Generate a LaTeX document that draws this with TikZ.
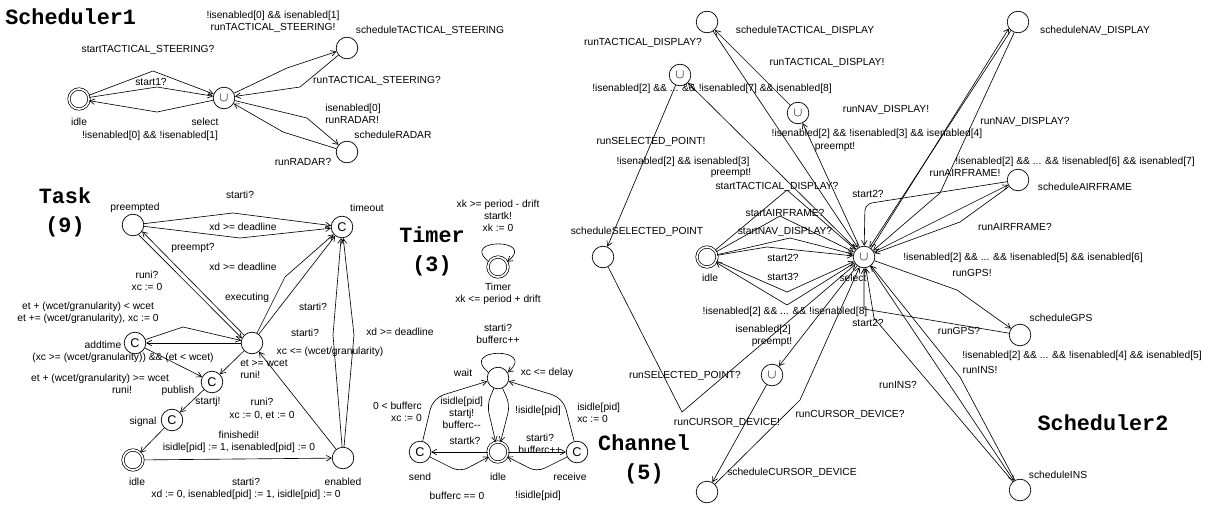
\documentclass[tikz,border=0pt]{standalone}
\usepackage{fontspec}
\setmainfont{Liberation Sans}
\setmonofont{Liberation Mono}
\usetikzlibrary{arrows.meta}

\begin{document}
\begin{tikzpicture}[x=0.025cm, y=-0.025cm,
		every node/.style={font=\fontsize{7.3}{8.7}\selectfont, inner sep=0pt, align=center},
		loc/.style={circle, draw, line width=0.5pt, minimum size=0.54cm},
		init/.style={loc, minimum size=0.5cm, double, double distance=1.2pt},
		comm/.style={loc, font=\fontsize{9}{9}\selectfont},
		urg/.style={loc, font=\fontsize{9}{9}\selectfont},
		ttl/.style={font=\fontsize{15.5}{20.5}\selectfont\ttfamily\bfseries},
		edge/.style={-{Straight Barb[length=3.5pt,width=4pt]}, line width=0.45pt},
	]
	\useasboundingbox (0,0) rectangle (1221,506);

	% Scheduler1
	\node[ttl, anchor=west] (s1title) at (5,17) {Scheduler1};
	\node[init] (s1idle) at (79,99) {};
	\node[urg] (s1sel) at (224,98) {$\cup$};
	\node[loc] (s1steer) at (347,48) {};
	\node[loc] (s1radar) at (347,152) {};
	\draw[edge] (s1idle) -- (153,71) -- (s1sel);
	\draw[edge] (s1idle) -- (157,87) -- (s1sel);
	\draw[edge] (s1sel) -- (157,112) -- (s1idle);
	\draw[edge] (s1sel) -- (287,68) -- (s1steer);
	\draw[edge] (s1steer) -- (300,87) -- (s1sel);
	\draw[edge] (s1sel) -- (307,118) -- (s1radar);
	\draw[edge] (s1radar) -- (283,132) -- (s1sel);
	\node (s1a) at (273,22) {!isenabled[0] \&\& isenabled[1]\\runTACTICAL\_STEERING!};
	\node (s1b) at (430,31) {scheduleTACTICAL\_STEERING};
	\node (s1c) at (148,50) {startTACTICAL\_STEERING?};
	\node (s1d) at (151,82) {start1?};
	\node (s1e) at (377,81) {runTACTICAL\_STEERING?};
	\node[anchor=west, align=left] (s1f) at (325,114) {isenabled[0]\\runRADAR!};
	\node (s1g) at (393,135) {scheduleRADAR};
	\node (s1h) at (303,162) {runRADAR?};
	\node (s1i) at (79,122) {idle};
	\node (s1j) at (205,122) {select};
	\node (s1k) at (150,136) {!isenabled[0] \&\& !isenabled[1]};

	% Task
	\node[ttl] (tktitle) at (65,212) {Task\\(9)};
	\node[loc] (tpre) at (133,225) {};
	\node[comm] (tout) at (342,227) {C};
	\node[loc] (texec) at (252,343) {};
	\node[comm] (tadd) at (135,343) {C};
	\node[comm] (tpub) at (212,382) {C};
	\node[comm] (tsig) at (172,420) {C};
	\node[init] (tidle) at (133,460) {};
	\node[loc] (tena) at (343,458) {};
	\draw[edge] (tpre) -- (233,213) -- (tout);
	\draw[edge] (tpre) -- (240,238) -- (tout);
	\draw[edge] (texec.135) -- (tpre.-35);
	\draw[edge] (tpre.-60) -- (texec.155);
	\draw[edge] (texec) -- (285,277) -- (tout);
	\draw[edge] (texec) -- (tout);
	\draw[edge] (tadd) -- (183,327) -- (texec);
	\draw[edge] (texec) -- (tadd);
	\draw[edge] (tadd) -- (tpub);
	\draw[edge] (texec) -- (tpub);
	\draw[edge] (tpub) -- (tsig);
	\draw[edge] (tsig) -- (tidle);
	\draw[edge] (tidle) -- (tena);
	\draw[edge] (tena) -- (texec);
	\draw[edge] (tena) -- (333,335) -- (tout);
	\draw[edge] (tena) -- (354,335) -- (tout);
	\node (tka) at (135,208) {preempted};
	\node (tkb) at (367,208) {timeout};
	\node (tkc) at (240,195) {starti?};
	\node (tkd) at (243,227) {xd >= deadline};
	\node (tke) at (193,248) {preempt?};
	\node (tkf) at (243,267) {xd >= deadline};
	\node (tkg) at (147,281) {runi?\\xc := 0};
	\node (tkh) at (88,313) {et + (wcet/granularity) < wcet\\et += (wcet/granularity), xc := 0};
	\node (tki) at (247,298) {executing};
	\node (tkj) at (313,307) {starti?};
	\node (tkk) at (305,333) {starti?};
	\node (tkl) at (400,332) {xd >= deadline};
	\node (tkm) at (330,352) {xc <= (wcet/granularity)};
	\node (tkn) at (103,345) {addtime};
	\node (tko) at (123,358) {(xc >= (wcet/granularity)) \&\& (et < wcet)};
	\node[anchor=west, align=left] (tkp) at (240,369) {et >= wcet\\runi!};
	\node (tkq) at (100,384) {et + (wcet/granularity) >= wcet\\\hspace*{1.1cm}runi!};
	\node (tkr) at (178,391) {publish};
	\node (tks) at (208,402) {startj!};
	\node (tkt) at (262,409) {runi?\\xc := 0, et := 0};
	\node (tku) at (143,422) {signal};
	\node (tkv) at (239,442) {finishedi!\\isidle[pid] := 1, isenabled[pid] := 0};
	\node (tkw) at (137,482) {idle};
	\node (tkx) at (246,489) {starti?\\xd := 0, isenabled[pid] := 1, isidle[pid] := 0};
	\node (tky) at (343,482) {enabled};

	% Timer
	\node[ttl] (tmtitle) at (432,251) {Timer\\(3)};
	\node[init] (tim) at (498,267) {};
	\draw[edge] (tim.150) .. controls (458,238) and (538,238) .. (tim.30);
	\node (tma) at (498,216) {xk >= period - drift\\startk!\\xk := 0};
	\node (tmb) at (498,294) {Timer\\xk <= period + drift};

	% Channel
	\node[ttl] (chtitle) at (644,459) {Channel\\(5)};
	\node[loc] (cwait) at (498,378) {};
	\node[comm] (csend) at (420,452) {C};
	\node[init] (cidle) at (498,452) {};
	\node[comm] (crecv) at (577,452) {C};
	\draw[edge, rounded corners=8pt] (csend) -- (433,398) -- (cwait);
	\draw[edge, rounded corners=6pt] (cwait) -- (487,405) -- (cidle);
	\draw[edge, rounded corners=6pt] (cwait) -- (510,405) -- (cidle);
	\draw[edge, rounded corners=8pt] (crecv) -- (563,398) -- (cwait);
	\draw[edge] (cidle) -- (csend);
	\draw[edge] (cidle) -- (crecv);
	\draw[edge, rounded corners=6pt] (csend) -- (460,472) -- (cidle);
	\draw[edge, rounded corners=6pt] (crecv) -- (537,472) -- (cidle);
	\draw[edge] (cwait.150) .. controls (458,347) and (538,347) .. (cwait.30);
	\node (cha) at (498,334) {starti?\\bufferc++};
	\node (chb) at (463,373) {wait};
	\node (chc) at (547,373) {xc <= delay};
	\node[anchor=east, align=right] (chd) at (422,412) {0 < bufferc\\xc := 0};
	\node[anchor=west, align=center] (che) at (440,413) {isidle[pid]\\startj!\\bufferc-{}-};
	\node (chf) at (538,411) {!isidle[pid]};
	\node[anchor=west, align=left] (chg) at (577,413) {isidle[pid]\\xc := 0};
	\node (chh) at (465,441) {startk?};
	\node (chi) at (540,444) {starti?\\bufferc++};
	\node (chj) at (420,477) {send};
	\node (chk) at (498,477) {idle};
	\node (chl) at (570,477) {receive};
	\node (chm) at (457,496) {bufferc == 0};
	\node (chn) at (538,496) {!isidle[pid]};

	% Scheduler2
	\node[ttl] (s2title) at (1103,423) {Scheduler2};
	\node[urg] (s2sel) at (864,257) {$\cup$};
	\node[init] (s2idle) at (707,257) {};
	\node[loc] (s2td) at (707,22) {};
	\node[loc] (s2nav) at (1018,22) {};
	\node[loc] (s2air) at (1018,180) {};
	\node[loc] (s2gps) at (1020,335) {};
	\node[loc] (s2ins) at (1020,490) {};
	\node[loc] (s2cur) at (707,492) {};
	\node[loc] (s2sp) at (603,257) {};
	\node[urg] (s2u1) at (680,75) {$\cup$};
	\node[urg] (s2u2) at (798,113) {$\cup$};
	\node[urg] (s2u3) at (772,375) {$\cup$};
	\draw[edge] (s2idle) -- (787,190) -- (s2sel);
	\draw[edge] (s2idle) -- (780,216) -- (s2sel);
	\draw[edge] (s2idle) -- (790,238) -- (s2sel);
	\draw[edge] (s2idle) -- (767,247) -- (s2sel);
	\draw[edge] (s2idle) -- (787,292) -- (s2sel);
	\draw[edge] (s2sel) -- (787,305) -- (s2idle);
	\draw[edge] (s2sel) -- (s2u1);
	\draw[edge] (s2u1) -- (s2sp);
	\draw[edge] (s2sp) -- (682,412) -- (s2sel);
	\draw[edge] (s2td) -- (s2sel);
	\draw[edge] (s2u2) -- (s2td);
	\draw[edge] (s2sel) -- (s2u2);
	\draw[edge] (s2sel.50) -- (s2nav.215);
	\draw[edge] (s2nav.230) -- (s2sel.60);
	\draw[edge] (s2nav.250) -- (940,193) -- (s2sel.35);
	\draw[edge, rounded corners=5pt] (s2air) -- (865,204) -- (s2sel);
	\draw[edge] (s2sel) -- (s2air);
	\draw[edge] (s2air) -- (960,222) -- (s2sel);
	\draw[edge] (s2sel) -- (957,290) -- (s2gps);
	\draw[edge] (s2gps) -- (864,309) -- (s2sel);
	\draw[edge] (s2sel) -- (s2ins);
	\draw[edge] (s2ins) -- (960,377) -- (s2sel);
	\draw[edge] (s2ins) -- (874,318) -- (s2sel);
	\draw[edge] (s2sel) -- (s2u3);
	\draw[edge] (s2u3) -- (s2cur);
	\draw[edge] (s2cur) -- (800,400) -- (s2sel);
	\node (s2a) at (805,31) {scheduleTACTICAL\_DISPLAY};
	\node (s2b) at (643,43) {runTACTICAL\_DISPLAY?};
	\node (s2c) at (827,63) {runTACTICAL\_DISPLAY!};
	\node (s2d) at (712,89) {!isenabled[2] \&\& ... \&\& !isenabled[7] \&\& isenabled[8]};
	\node (s2e) at (886,110) {runNAV\_DISPLAY!};
	\node (s2f) at (1025,122) {runNAV\_DISPLAY?};
	\node (s2g) at (877,134) {!isenabled[2] \&\& !isenabled[3] \&\& isenabled[4]};
	\node (s2h) at (835,147) {preempt!};
	\node (s2i) at (651,142) {runSELECTED\_POINT!};
	\node (s2j) at (683,162) {!isenabled[2] \&\& isenabled[3]};
	\node (s2k) at (731,173) {preempt!};
	\node (s2l) at (777,187) {startTACTICAL\_DISPLAY?};
	\node (s2m) at (868,194) {start2?};
	\node (s2n) at (1075,162) {!isenabled[2] \&\& ... \&\& !isenabled[6] \&\& isenabled[7]};
	\node (s2o) at (965,173) {runAIRFRAME!};
	\node (s2p) at (1085,187) {scheduleAIRFRAME};
	\node (s2q) at (1015,227) {runAIRFRAME?};
	\node (s2r) at (785,213) {startAIRFRAME?};
	\node (s2s) at (637,232) {scheduleSELECTED\_POINT};
	\node (s2t) at (785,232) {startNAV\_DISPLAY?};
	\node (s2u) at (783,258) {start2?};
	\node (s2v) at (783,277) {start3?};
	\node (s2w) at (710,278) {idle};
	\node (s2x) at (853,278) {select};
	\node (s2y) at (785,312) {!isenabled[2] \&\& ... \&\& !isenabled[8]};
	\node (s2z) at (868,323) {start2?};
	\node (s2aa) at (763,336) {isenabled[2]\\\hspace*{0.45cm}preempt!};
	\node (s2ab) at (685,376) {runSELECTED\_POINT?};
	\node (s2ac) at (727,423) {runCURSOR\_DEVICE!};
	\node (s2ad) at (850,415) {runCURSOR\_DEVICE?};
	\node (s2ae) at (792,473) {scheduleCURSOR\_DEVICE};
	\node (s2af) at (1023,258) {!isenabled[2] \&\& ... \&\& !isenabled[5] \&\& isenabled[6]};
	\node (s2ag) at (972,273) {runGPS!};
	\node (s2ah) at (1061,318) {scheduleGPS};
	\node (s2ai) at (959,331) {runGPS?};
	\node (s2aj) at (1082,356) {!isenabled[2] \&\& ... \&\& !isenabled[4] \&\& isenabled[5]};
	\node (s2ak) at (980,370) {runINS!};
	\node (s2al) at (898,385) {runINS?};
	\node (s2am) at (1058,475) {scheduleINS};
	\node (s2an) at (1095,31) {scheduleNAV\_DISPLAY};
\end{tikzpicture}
\end{document}
